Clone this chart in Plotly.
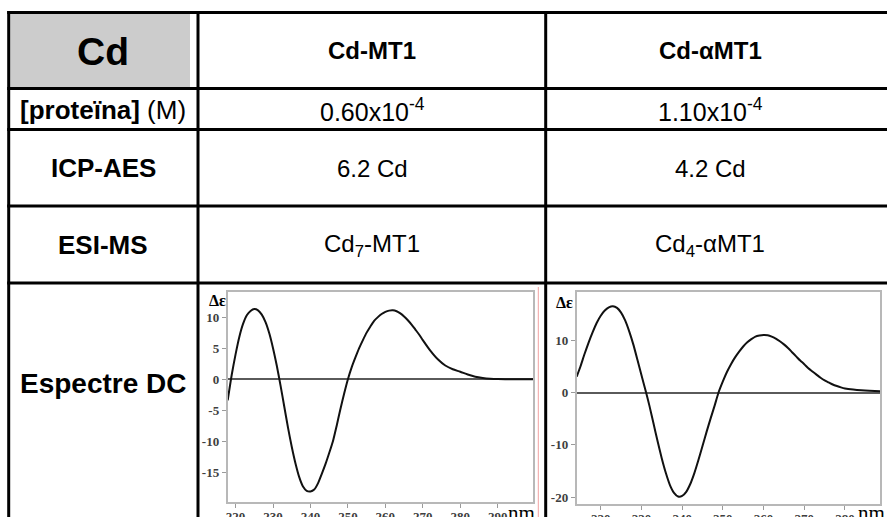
import plotly.graph_objects as go

W, H = 887, 517

# ---------------- table text ----------------
corner_label = "Cd"
column_labels = ["Cd-MT1", "Cd-αMT1"]
row_labels = ["<b>[proteïna]</b> (M)", "<b>ICP-AES</b>", "<b>ESI-MS</b>", "<b>Espectre DC</b>"]
protein_conc = ["0.60x10<sup>-4</sup>", "1.10x10<sup>-4</sup>"]
icp_aes = ["6.2 Cd", "4.2 Cd"]
esi_ms = ["Cd<sub>7</sub>-MT1", "Cd<sub>4</sub>-αMT1"]

# ---------------- CD spectra (nm, Δε) ----------------
mt1_nm = [217.9, 219, 220, 221, 222, 223, 224, 225, 226, 227, 228, 229, 230, 231,
          232, 233, 234, 235, 236, 237, 238, 239, 240, 241, 242, 243, 244, 245,
          246, 247, 248, 249, 250, 251, 252, 253, 254, 255, 256, 257, 258, 259,
          260, 261, 262, 263, 264, 265, 266, 267, 268, 269, 270, 272, 274, 276,
          278, 280, 282, 284, 286, 288, 290, 292, 295, 299.5]
mt1_de = [-3.4, 0.8, 4.0, 6.8, 8.9, 10.3, 11.0, 11.3, 11.1, 10.4, 9.2, 7.4, 5.0, 2.2,
          -1.0, -4.4, -7.8, -10.9, -13.6, -15.8, -17.3, -18.0, -18.1, -17.8, -16.8, -15.3, -13.7, -11.9,
          -10.0, -7.5, -4.8, -2.3, 0.0, 1.9, 3.5, 5.0, 6.3, 7.5, 8.5, 9.4, 10.0, 10.5,
          10.85, 11.05, 11.1, 10.95, 10.6, 10.1, 9.5, 8.8, 8.0, 7.2, 6.3, 4.6, 3.2, 2.2,
          1.6, 1.2, 0.75, 0.4, 0.2, 0.08, 0.02, 0.0, 0.0, 0.0]

amt1_nm = [214.1, 215, 216, 217, 218, 219, 220, 221, 222, 223, 224, 225, 226, 227,
           228, 229, 230, 231, 232, 233, 234, 235, 236, 237, 238, 239, 240, 241,
           242, 243, 244, 245, 246, 247, 248, 249, 250, 251, 252, 253, 254, 255,
           256, 257, 258, 259, 260, 261, 262, 263, 264, 265, 266, 267, 268, 269,
           270, 271, 272, 273, 274, 275, 276, 277, 278, 279, 280, 282, 284, 286,
           288.6]
amt1_de = [3.1, 5.0, 7.4, 9.6, 11.6, 13.4, 14.8, 15.8, 16.4, 16.6, 16.3, 15.4, 13.9, 11.8,
           9.3, 6.4, 3.4, 0.5, -2.6, -6.0, -9.4, -12.6, -15.4, -17.7, -19.2, -19.9, -19.8, -19.0,
           -17.5, -15.4, -12.9, -10.2, -7.5, -4.9, -2.4, 0.2, 2.2, 4.0, 5.5, 6.8, 7.9, 8.9,
           9.7, 10.3, 10.8, 11.0, 11.1, 11.05, 10.8, 10.4, 9.9, 9.3, 8.6, 7.8, 7.0, 6.2,
           5.5, 4.7, 4.1, 3.5, 2.9, 2.4, 2.0, 1.6, 1.3, 1.05, 0.85, 0.63, 0.48, 0.38,
           0.3]

mt1_yticks = [10, 5, 0, -5, -10, -15]
amt1_yticks = [10, 0, -10, -20]
mt1_xticks = [220, 230, 240, 250, 260, 270, 280, 290]
amt1_xticks = [220, 230, 240, 250, 260, 270, 280]

# ---------------- geometry (pixels) ----------------
X_LEFT, X_COL1, X_COL2 = 8.7, 198, 545.7
Y_TOP, ROWS = 12.5, [88.5, 129.5, 206, 283]
LINE_W = 3

# spectrum frames: (left, right, top, bottom) in pixels
frame1 = (227.7, 533.3, 291.7, 502.0)
frame2 = (576.7, 880.0, 292.3, 504.3)


def xdom(f):
    return [f[0] / W, f[1] / W]


def ydom(f):
    return [1 - f[3] / H, 1 - f[2] / H]


fig = go.Figure()

serif = "Liberation Serif, Times New Roman, serif"
sans = "Liberation Sans, Arial, sans-serif"

for nm, de, xa, ya in [(mt1_nm, mt1_de, "x2", "y2"), (amt1_nm, amt1_de, "x3", "y3")]:
    fig.add_trace(go.Scatter(x=nm, y=de, xaxis=xa, yaxis=ya, mode="lines",
                             line=dict(color="#111111", width=2, shape="spline", smoothing=0.6),
                             hoverinfo="skip", showlegend=False))

axis_common = dict(showline=True, mirror=True, linecolor="#b8b8b8", linewidth=1.8,
                   showgrid=False, ticks="outside", ticklen=4, tickcolor="#9a9a9a",
                   tickwidth=1, automargin=False,
                   tickfont=dict(family=serif, size=13, color="#404040", weight="bold"),
                   fixedrange=True)

fig.update_layout(
    width=W, height=H,
    margin=dict(l=0, r=0, t=0, b=0, pad=0, autoexpand=False),
    paper_bgcolor="white", plot_bgcolor="rgba(0,0,0,0)",
    showlegend=False,
    # canvas axis in pixel units for the table
    xaxis=dict(domain=[0, 1], range=[0, W], visible=False, fixedrange=True, automargin=False),
    yaxis=dict(domain=[0, 1], range=[H, 0], visible=False, fixedrange=True, automargin=False),
    xaxis2=dict(domain=xdom(frame1), range=[217.9, 299.5], anchor="y2",
                tickvals=mt1_xticks, ticktext=[str(v) for v in mt1_xticks], zeroline=False,
                ticklabelstandoff=-3, **axis_common),
    yaxis2=dict(domain=ydom(frame1), range=[-19.8, 14.1], anchor="x2",
                tickvals=mt1_yticks, ticktext=[str(v) for v in mt1_yticks],
                zeroline=True, zerolinecolor="#5a5a5a", zerolinewidth=2, **axis_common),
    xaxis3=dict(domain=xdom(frame2), range=[214.1, 288.6], anchor="y3",
                tickvals=amt1_xticks, ticktext=[str(v) for v in amt1_xticks], zeroline=False,
                ticklabelstandoff=-3, **axis_common),
    yaxis3=dict(domain=ydom(frame2), range=[-21.4, 19.3], anchor="x3",
                tickvals=amt1_yticks, ticktext=[str(v) for v in amt1_yticks],
                zeroline=True, zerolinecolor="#5a5a5a", zerolinewidth=2, **axis_common),
)

shapes = []
# grey corner cell
shapes.append(dict(type="rect", xref="x", yref="y", x0=10.2, x1=190, y0=14, y1=87,
                   fillcolor="#cccccc", line=dict(width=0), layer="below"))
# horizontal rules
for y in [Y_TOP] + ROWS:
    shapes.append(dict(type="line", xref="x", yref="y", x0=X_LEFT - 1.5, x1=W, y0=y, y1=y,
                       line=dict(color="black", width=LINE_W)))
# vertical rules
for x in [X_LEFT, X_COL1, X_COL2]:
    shapes.append(dict(type="line", xref="x", yref="y", x0=x, x1=x, y0=Y_TOP - 1.5, y1=H,
                       line=dict(color="black", width=LINE_W)))
# thin red edge of the first spectrum panel
shapes.append(dict(type="line", xref="x", yref="y", x0=538.3, x1=538.3, y0=287, y1=H,
                   line=dict(color="#f2a0a0", width=1)))
fig.update_layout(shapes=shapes)

ann = []


def txt(x, y, s, size, bold=False, family=sans, xanchor="center", color="black"):
    ann.append(dict(xref="x", yref="y", x=x, y=y, text=(f"<b>{s}</b>" if bold else s),
                    showarrow=False, xanchor=xanchor, yanchor="middle",
                    font=dict(family=family, size=size, color=color)))


col1_c = (X_LEFT + X_COL1) / 2
col2_c, col3_c = 372, 710

txt(col1_c, 51, corner_label, 39, bold=True)
txt(col2_c, 50, column_labels[0], 24, bold=True)
txt(col3_c, 50, column_labels[1], 24, bold=True)

row_y = [110, 168, 245, 383]
row_sizes = [26, 26, 26, 28]
for y, lab, sz in zip(row_y, row_labels, row_sizes):
    txt(col1_c, y, lab, sz)

value_sizes = [25, 24, 24]
for y, vals, sz in zip(row_y[:3], [protein_conc, icp_aes, esi_ms], value_sizes):
    txt(col2_c, y, vals[0], sz)
    txt(col3_c, y, vals[1], sz)

# spectrum axis captions
txt(217, 300, "Δε", 16, bold=True, family=serif)
txt(564, 302, "Δε", 16, bold=True, family=serif)
txt(521, 513, "nm", 21, family=serif)
txt(871, 513, "nm", 21, family=serif)

fig.update_layout(annotations=ann)

fig.write_html("out.html")
